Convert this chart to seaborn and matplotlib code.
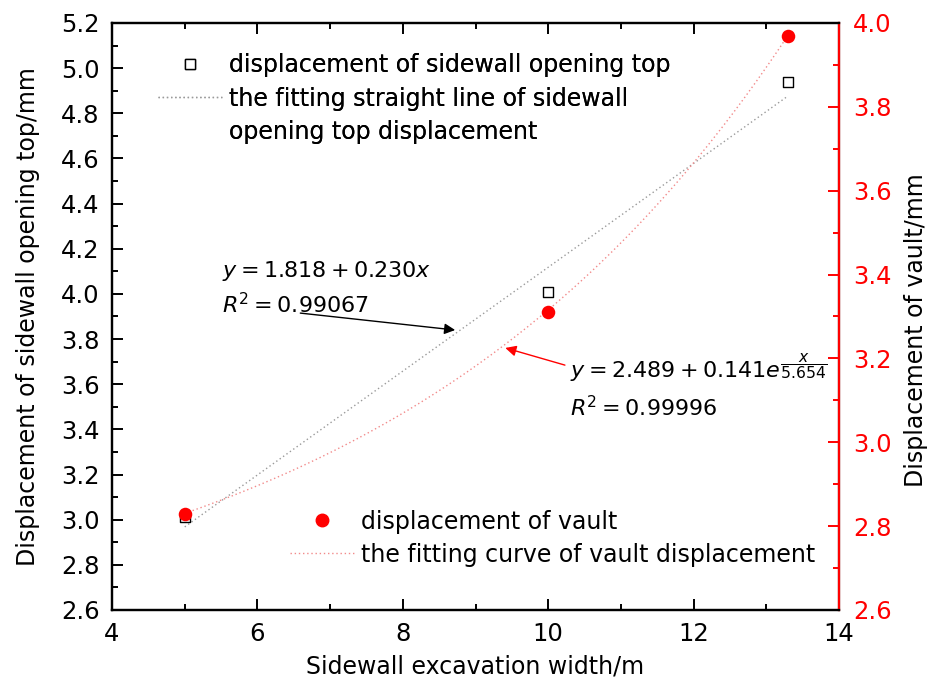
import numpy as np
import pandas as pd
import matplotlib
matplotlib.use("Agg")
import matplotlib.pyplot as plt
from matplotlib.lines import Line2D
from matplotlib.ticker import MultipleLocator
import seaborn as sns

# Measured data
width_m = [5.0, 10.0, 13.3]
sidewall_top_mm = [3.01, 4.01, 4.94]
vault_mm = [2.83, 3.31, 3.97]

# Fit coefficients
lin_a, lin_b, lin_r2 = 1.818, 0.230, 0.99067
exp_a, exp_b, exp_t, exp_r2 = 2.489, 0.141, 5.654, 0.99996

sns.set_theme(style="ticks")
plt.rcParams["font.family"] = ["DejaVu Sans"]
plt.rcParams["mathtext.fontset"] = "dejavusans"
plt.rcParams["text.color"] = "black"
plt.rcParams["axes.labelcolor"] = "black"
TICK_FS = 17.5
LEG_FS = 17
EQ_FS = 16
LABEL_FS = 17

fig = plt.figure(figsize=(9.32, 6.88), dpi=100)
ax = fig.add_axes([0.1202, 0.1134, 0.7800, 0.8532])
ax2 = ax.twinx()

df = pd.DataFrame({"w": width_m, "top": sidewall_top_mm, "vault": vault_mm})
xs = np.linspace(min(width_m), max(width_m), 200)
fit_df = pd.DataFrame({
    "w": xs,
    "lin": lin_a + lin_b * xs,
    "exp": exp_a + exp_b * np.exp(xs / exp_t),
})

grey_dot = "#9a9a9a"
pink_dot = "#f28a8a"
dots = (0, (1, 2))

sns.lineplot(data=fit_df, x="w", y="lin", ax=ax, color=grey_dot,
             linestyle=dots, linewidth=1.0)
sns.scatterplot(data=df, x="w", y="top", ax=ax, marker="s", s=60,
                facecolor="white", edgecolor="black", linewidth=1.0, zorder=3)
sns.lineplot(data=fit_df, x="w", y="exp", ax=ax2, color=pink_dot,
             linestyle=dots, linewidth=1.0)
sns.scatterplot(data=df, x="w", y="vault", ax=ax2, marker="o", s=95,
                color="red", edgecolor="red", linewidth=0, zorder=3)

ax.set_xlim(4, 14)
ax.set_ylim(2.6, 5.2)
ax2.set_ylim(2.6, 4.0)
ax.xaxis.set_major_locator(MultipleLocator(2))
ax.xaxis.set_minor_locator(MultipleLocator(1))
ax.yaxis.set_major_locator(MultipleLocator(0.2))
ax.yaxis.set_minor_locator(MultipleLocator(0.1))
ax2.yaxis.set_major_locator(MultipleLocator(0.2))
ax2.yaxis.set_minor_locator(MultipleLocator(0.1))
ax.yaxis.set_major_formatter(lambda v, p: f"{v:.1f}")
ax2.yaxis.set_major_formatter(lambda v, p: f"{v:.1f}")

for a in (ax, ax2):
    for s in a.spines.values():
        s.set_linewidth(1.6)
        s.set_color("black")
ax2.spines["right"].set_color("red")

ax.tick_params(axis="both", which="both", direction="in", top=True,
               width=1.4, labelsize=TICK_FS, colors="black")
ax.tick_params(axis="y", which="both", right=False, pad=9)
ax.tick_params(axis="x", which="both", pad=9)
ax.tick_params(which="major", length=8)
ax.tick_params(which="minor", length=4.5)
ax2.tick_params(axis="y", which="both", direction="in", width=1.4,
                labelsize=TICK_FS, colors="red", pad=10)
ax2.tick_params(which="major", length=8)
ax2.tick_params(which="minor", length=4.5)

ax.set_xlabel("Sidewall excavation width/m", fontsize=LABEL_FS, labelpad=6)
ax.set_ylabel("Displacement of sidewall opening top/mm", fontsize=LABEL_FS, labelpad=15)
ax2.set_ylabel("Displacement of vault/mm", fontsize=LABEL_FS, color="black")
ax2.yaxis.set_label_coords(1.09, 0.477)

# Legends (Origin-style: second entry wraps onto an unmarked third row)
blank = Line2D([], [], linestyle="none")
h_top = [
    Line2D([], [], marker="s", markersize=7.5, markerfacecolor="white",
           markeredgecolor="black", markeredgewidth=1.0, linestyle="none"),
    Line2D([], [], color=grey_dot, linestyle=dots, linewidth=1.0),
    blank,
]
leg1 = ax.legend(h_top, ["displacement of sidewall opening top",
                         "the fitting straight line of sidewall",
                         "opening top displacement"],
                 loc="upper left", bbox_to_anchor=(0.063, 0.949), frameon=False,
                 fontsize=LEG_FS, handlelength=2.7, handletextpad=0.3,
                 labelspacing=0.41, borderaxespad=0, borderpad=0)
ax.add_artist(leg1)
h_bot = [
    Line2D([], [], marker="o", markersize=9, color="red", linestyle="none"),
    Line2D([], [], color=pink_dot, linestyle=dots, linewidth=1.0),
]
ax2.legend(h_bot, ["displacement of vault", "the fitting curve of vault displacement"],
           loc="upper left", bbox_to_anchor=(0.245, 0.171), frameon=False,
           fontsize=LEG_FS, handlelength=2.7, handletextpad=0.3,
           labelspacing=0.38, borderaxespad=0, borderpad=0)

# Fit equations
ax.text(5.51, 4.155, rf"$y = {lin_a:.3f} + {lin_b:.3f}x$" + "\n" + rf"$R^2 = {lin_r2:.5f}$",
        fontsize=EQ_FS, ha="left", va="top", linespacing=1.45)
ax.annotate("", xy=(8.72, 3.84), xytext=(6.59, 3.915),
            arrowprops=dict(arrowstyle="-|>", color="black", lw=1.0,
                            mutation_scale=16, shrinkA=0, shrinkB=0))
ax2.text(10.3, 3.217,
         rf"$y = {exp_a:.3f} + {exp_b:.3f}e^{{\dfrac{{x}}{{{exp_t:.3f}}}}}$" + "\n"
         + rf"$R^2 = {exp_r2:.5f}$",
         fontsize=EQ_FS, ha="left", va="top", linespacing=1.5)
ax2.annotate("", xy=(9.41, 3.225), xytext=(10.23, 3.184),
             arrowprops=dict(arrowstyle="-|>", color="red", lw=1.0,
                             mutation_scale=16, shrinkA=0, shrinkB=0))

fig.savefig("out.png", dpi=100)
